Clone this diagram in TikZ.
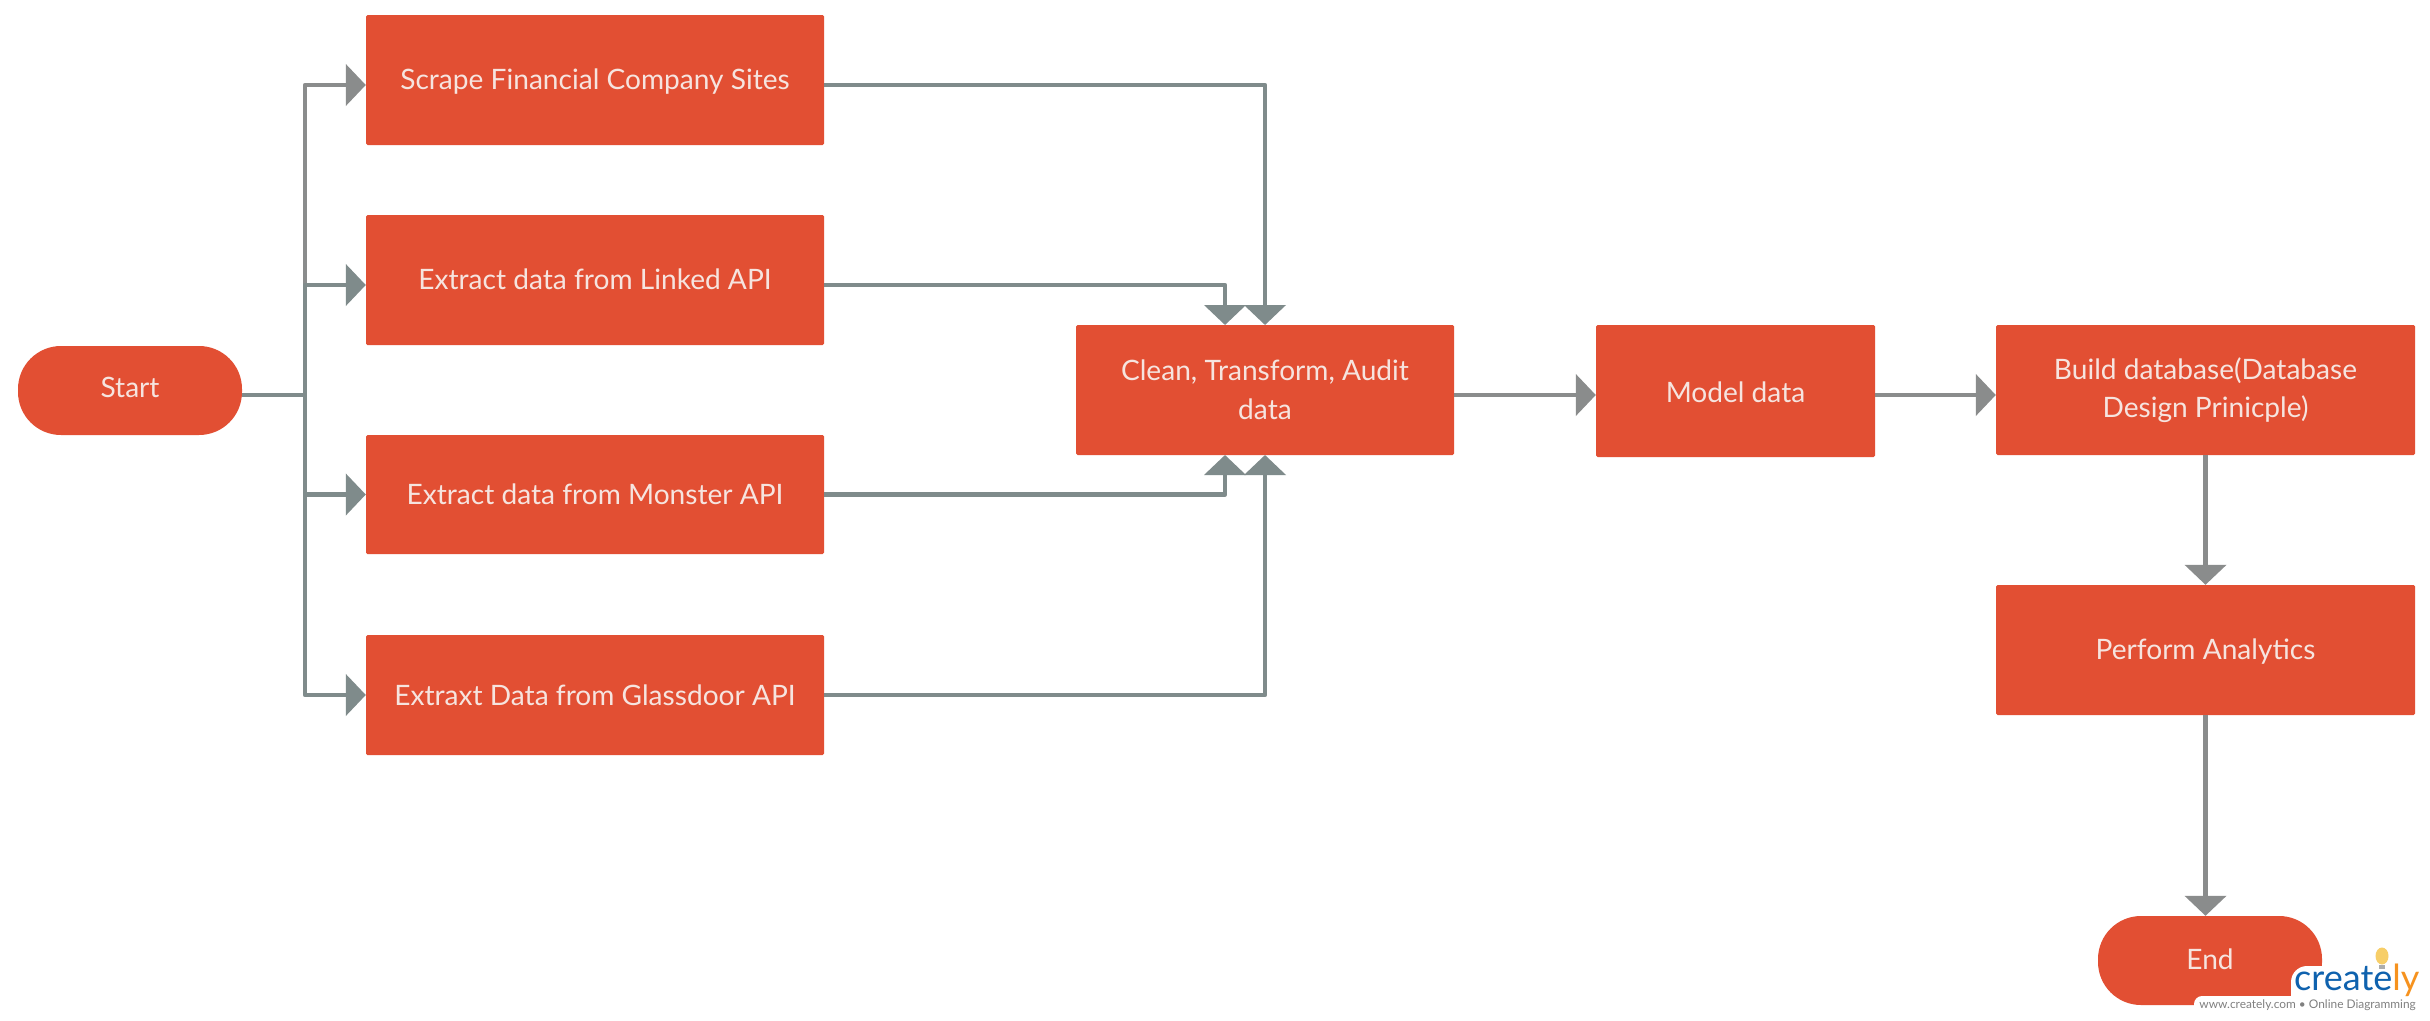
\documentclass[tikz,border=0pt]{standalone}
\usepackage{fontspec}
\setmainfont{Lato}
\usetikzlibrary{arrows.meta,positioning}
\definecolor{boxred}{HTML}{E24F33}
\definecolor{txt}{HTML}{F6E4DF}
\definecolor{lineA}{HTML}{7F8B8B}
\definecolor{lineB}{HTML}{8A8C8C}
\definecolor{logoblue}{HTML}{0F62AE}
\definecolor{logoorange}{HTML}{F6921E}
\definecolor{bulb}{HTML}{F7CE68}
\tikzset{
  x=1pt,y=-1pt,
  base/.style={fill=boxred,draw=none,text=txt,inner sep=0pt,align=center,font=\fontsize{28.1}{38.5}\selectfont},
  procbox/.style={base,rounded corners=1.5pt},
  term/.style={base,rounded corners=43pt},
  tdrop/.style={text height=#1,text depth=10pt},
  conn/.style={draw=lineA,line width=4.5pt,line join=round},
  connB/.style={conn,draw=lineB},
  arr/.style={conn,-{Triangle[length=20pt,width=41pt,fill=lineA]}},
  arrB/.style={connB,-{Triangle[length=20pt,width=41pt,fill=lineB]}},
}
\begin{document}
\begin{tikzpicture}
\useasboundingbox (0,0) rectangle (2430,1020);
\fill[white] (0,0) rectangle (2430,1020);
% nodes
\node[term,tdrop=23.6pt,minimum width=224pt,minimum height=89pt] (start) at (130,390.5) {Start};
\node[procbox,tdrop=28.6pt,minimum width=458pt,minimum height=130pt] (scrape) at (595,80) {Scrape Financial Company Sites};
\node[procbox,tdrop=28.6pt,minimum width=458pt,minimum height=130pt] (linked) at (595,280) {Extract data from Linked API};
\node[procbox,tdrop=30.6pt,minimum width=458pt,minimum height=119pt] (monster) at (595,494.5) {Extract data from Monster API};
\node[procbox,tdrop=30.6pt,minimum width=458pt,minimum height=120pt] (glass) at (595,695) {Extraxt Data from Glassdoor API};
\node[procbox,minimum width=378pt,minimum height=130pt] (clean) at (1265,390) {Clean, Transform, Audit\\data};
\node[procbox,tdrop=33pt,minimum width=279pt,minimum height=132pt] (model) at (1735.5,391) {Model data};
\node[procbox,minimum width=419pt,minimum height=130pt] (build) at (2205.5,390) {Build database(Database\\Design Prinicple)};
\node[procbox,tdrop=28.6pt,minimum width=419pt,minimum height=130pt] (perform) at (2205.5,650) {Perform Analytics};
\node[term,tdrop=27.6pt,minimum width=224pt,minimum height=89pt] (end) at (2210,960.5) {End};
% helper coordinates
\coordinate (trunk) at (305,395);
\coordinate (in1) at (1225,325);
\coordinate (in2) at (1265,325);
\coordinate (in3) at (1225,455);
\coordinate (in4) at (1265,455);
% connectors from Start
\draw[conn] ([yshift=-4.5pt]start.east) -- (trunk);
\draw[arrB] (trunk) |- ([yshift=-5pt]scrape.west);
\draw[arr] (trunk) |- ([yshift=-5pt]linked.west);
\draw[arr] (trunk) |- (monster.west);
\draw[arr] (trunk) |- (glass.west);
% connectors to Clean
\draw[arr] ([yshift=-5pt]scrape.east) -| (in2);
\draw[arr] ([yshift=-5pt]linked.east) -| (in1);
\draw[arr] (monster.east) -| (in3);
\draw[arr] (glass.east) -| (in4);
% main flow
\draw[arrB] ([yshift=-5pt]clean.east) -- ([yshift=-4pt]model.west);
\draw[arrB] ([yshift=-4pt]model.east) -- ([yshift=-5pt]build.west);
\draw[arrB] (build.south) -- (perform.north);
\draw[arrB] (perform.south) -- (end.north -| perform.south);
% watermark
\fill[white,rounded corners=8pt] (2194,996) rectangle (2440,1030);
\fill[white,rounded corners=16pt] (2291,966) rectangle (2440,1010);
\fill[white,rounded corners=8pt] (2370,944) rectangle (2440,980);
\node[inner sep=0pt,anchor=base west,font=\fontsize{36}{36}\selectfont,text=logoblue] (logo) at (2294,990) {create\textcolor{logoorange}{ly}};
\fill[bulb] (2382,956) ellipse (6.5pt and 8.5pt);
\fill[lineB!70] (2379,965) rectangle (2385,969);
\node[inner sep=0pt,anchor=base east,font=\fontsize{11.9}{13}\selectfont,text=gray] (tag) at (2416,1008) {www.creately.com • Online Diagramming};
\end{tikzpicture}
\end{document}
